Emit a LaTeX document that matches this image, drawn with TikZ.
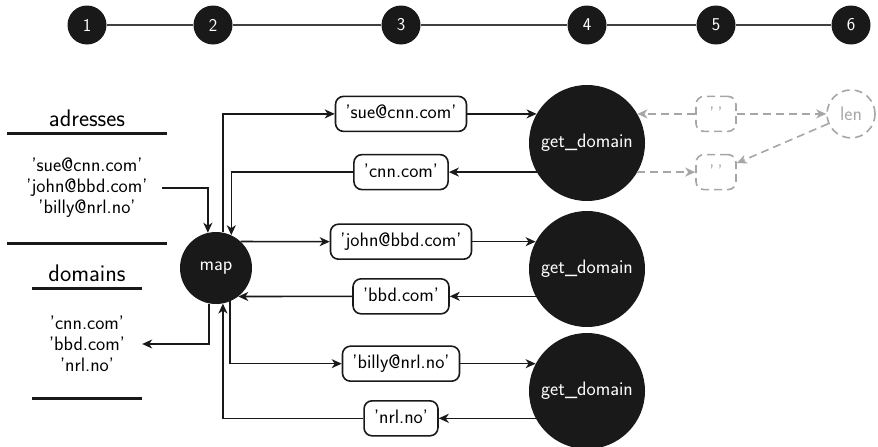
\documentclass[tikz,border=0pt]{standalone}
\usetikzlibrary{arrows.meta,calc}
\begin{document}
\begin{tikzpicture}[x=1pt,y=-1pt,
  every node/.style={font=\sffamily\fontsize{19.5}{21}\selectfont},
  tip/.style={-{Stealth[length=10pt,width=9pt,inset=3pt]}},
  link/.style={draw=black!90, line width=1.6pt, tip},
  ghost/.style={draw=gray!70, line width=1.6pt, dash pattern=on 8pt off 5pt},
  ghostlink/.style={ghost, tip},
  stepdot/.style={circle, fill=black!90, text=white, minimum size=39pt, inner sep=0pt,
    font=\sffamily\fontsize{18}{18}\selectfont},
  fn/.style={circle, fill=black!90, text=white, inner sep=0pt},
  valbox/.style={draw=black!90, line width=1.6pt, rounded corners=8pt, fill=white,
    inner xsep=10pt, inner ysep=8.5pt, text height=14pt, text depth=4pt},
  ghostbox/.style={ghost, rounded corners=8pt, minimum width=40pt, minimum height=35pt,
    inner sep=0pt, text=gray!70},
  heading/.style={font=\sffamily\fontsize{24}{24}\selectfont},
  rule/.style={line width=3pt, black!90}
]
\useasboundingbox (0,0) rectangle (878,447);

% step timeline
\foreach \i/\x in {1/87,2/213,3/401,4/587,5/716,6/851}
  \node[stepdot] (t\i) at (\x,25) {\i};
\foreach \a/\b in {1/2,2/3,3/4,4/5,5/6}
  \draw[black!75, line width=1.2pt] (t\a) -- (t\b);

% input and output lists
\node[heading] (hdaddr) at (87,118) {adresses};
\draw[rule] (7,133) -- (167,133);
\node[align=center, inner xsep=14pt] (addr) at (87,188) {'sue@cnn.com'\\'john@bbd.com'\\'billy@nrl.no'};
\draw[rule] (7,243) -- (167,243);

\node[heading] (hddom) at (87,273) {domains};
\draw[rule] (32,288) -- (142,288);
\node[align=center, inner xsep=17pt] (dom) at (87,344) {'cnn.com'\\'bbd.com'\\'nrl.no'};
\draw[rule] (32,398) -- (142,398);

% functions
\node[fn, minimum size=72pt] (map) at (216,268) {map};
\node[fn, minimum size=116pt] (gd1) at (587,143) {get\_domain};
\node[fn, minimum size=116pt] (gd2) at (587,269) {get\_domain};
\node[fn, minimum size=116pt] (gd3) at (587,391) {get\_domain};

% values passed around
\node[valbox] (sue)   at (gd1.150 -| t3) {'sue@cnn.com'};
\node[valbox] (cnn)   at (gd1.210 -| t3) {'cnn.com'};
\node[valbox] (john)  at (gd2.152 -| t3) {'john@bbd.com'};
\node[valbox] (bbd)   at (gd2.208 -| t3) {'bbd.com'};
\node[valbox] (billy) at (gd3.152 -| t3) {'billy@nrl.no'};
\node[valbox] (nrl)   at (gd3.208 -| t3) {'nrl.no'};

\draw[link] (addr.east) -| (map.103);
\draw[link] (map.79) |- (sue.west);
\draw[link] (sue.east) -- (gd1.150);
\draw[link] (gd1.210) -- (cnn.east);
\draw[link] (cnn.west) -| (map.65);
\draw[link] (map.47) -- (john.west);
\draw[link] (john.east) -- (gd2.152);
\draw[link] (gd2.208) -- (bbd.east);
\draw[link] (bbd.west) -- (map.-52);
\draw[link] (map.259) |- (dom.east);
\draw[link] (map.293) |- (billy.west);
\draw[link] (billy.east) -- (gd3.152);
\draw[link] (gd3.208) -- (nrl.east);
\draw[link] (nrl.west) -| (map.281);

% inside get_domain
\node[ghostbox] (g1) at (gd1.30 -| t5) {'\,'};
\node[ghostbox] (g2) at (gd1.330 -| t5) {'\,'};
\node[circle, ghost, minimum size=48pt, inner sep=0pt, text=gray!70] (len) at (g1 -| t6) {len};
\draw[ghostlink] (g1.west) -- (gd1.30);
\draw[ghostlink] (g1.east) -- (len.west);
\draw[ghostlink] (gd1.330) -- (g2.west);
\draw[ghostlink] (len) -- (g2);
\end{tikzpicture}
\end{document}
